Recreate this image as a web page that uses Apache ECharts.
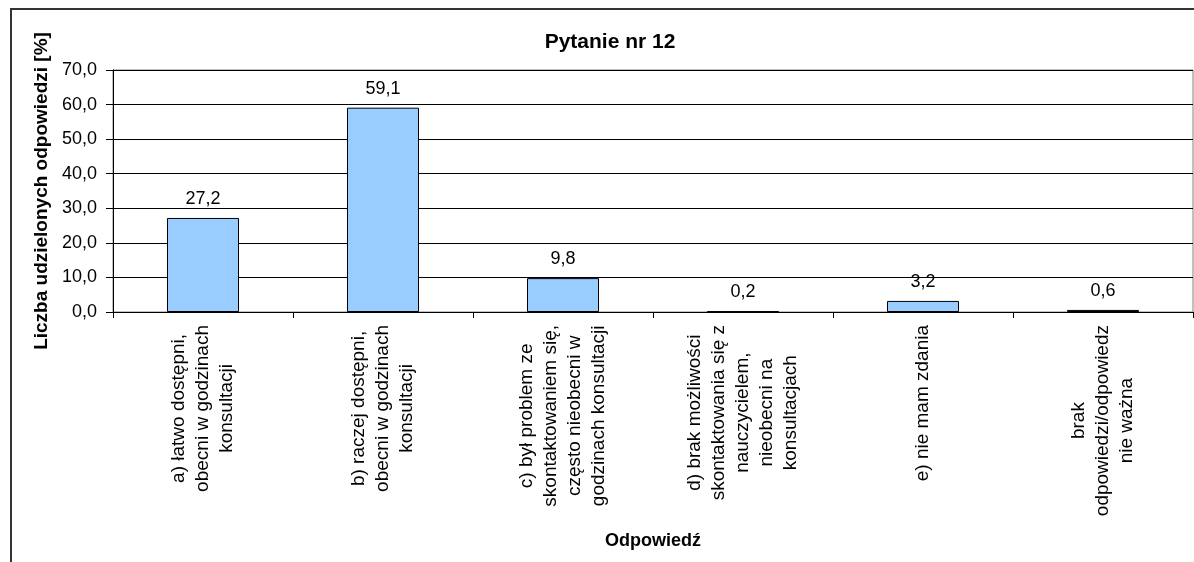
<!DOCTYPE html>
<html>
<head>
<meta charset="utf-8">
<title>Pytanie nr 12</title>
<script src="https://cdn.jsdelivr.net/npm/echarts@6/dist/echarts.min.js"></script>
<style>
  html, body { margin: 0; padding: 0; background: #fff; }
  #chart { width: 1194px; height: 562px; }
</style>
</head>
<body>
<div id="chart"></div>
<script>
// odpowiedzi (kategorie osi X)
var categories = [
  'a) łatwo dostępni,\nobecni w godzinach\nkonsultacji',
  'b) raczej dostępni,\nobecni w godzinach\nkonsultacji',
  'c) był problem ze\nskontaktowaniem się,\nczęsto nieobecni w\ngodzinach konsultacji',
  'd) brak możliwości\nskontaktowania się z\nnauczycielem,\nnieobecni na\nkonsultacjach',
  'e) nie mam zdania',
  'brak\nodpowiedzi/odpowiedz\nnie ważna'
];
// udział odpowiedzi [%]
var values = [27.2, 59.1, 9.8, 0.2, 3.2, 0.6];
// skala osi Y
var yTicks = [0, 10, 20, 30, 40, 50, 60, 70];

var FONT = '"Liberation Sans", Arial, sans-serif';

function fmt(v) {
  return Number(v).toFixed(1).replace('.', ',');
}

function initChart(dom) {
  var chart = echarts.init(dom, null, { width: 1194, height: 562 });

  var option = {
    backgroundColor: '#ffffff',
    animation: false,
    title: {
      text: 'Pytanie nr 12',
      left: 610,
      top: 32,
      padding: 0,
      textAlign: 'center',
      textStyle: { fontFamily: FONT, fontSize: 21, fontWeight: 'bold', color: '#000' }
    },
    graphic: [{
      // ramka wykresu
      type: 'rect',
      shape: { x: 11, y: 9, width: 1300, height: 700 },
      style: { fill: 'none', stroke: '#333', lineWidth: 2 },
      silent: true,
      z: -1
    }],
    grid: {
      left: 113,
      right: 1,
      top: 70,
      bottom: 250,
      show: true,
      borderColor: '#808080',
      borderWidth: 1,
      outerBoundsMode: 'none'
    },
    xAxis: {
      type: 'category',
      data: categories,
      name: 'Odpowiedź',
      nameLocation: 'middle',
      nameGap: 220,
      nameTextStyle: { fontFamily: FONT, fontSize: 18, fontWeight: 'bold', color: '#000' },
      axisLine: { lineStyle: { color: '#000', width: 1 } },
      axisTick: { show: true, length: 6, alignWithLabel: false, lineStyle: { color: '#000' } },
      axisLabel: {
        interval: 0,
        rotate: 90,
        margin: 13,
        formatter: function(v) {
          return v.split('\n').map(function(s) { return '{c|' + s + '}'; }).join('\n');
        },
        rich: {
          c: { align: 'center', fontFamily: FONT, fontSize: 19, lineHeight: 24, color: '#000' }
        }
      }
    },
    yAxis: {
      type: 'value',
      min: yTicks[0],
      max: yTicks[yTicks.length - 1],
      interval: yTicks[1] - yTicks[0],
      name: 'Liczba udzielonych odpowiedzi [%]',
      nameLocation: 'middle',
      nameGap: 60,
      nameTextStyle: { fontFamily: FONT, fontSize: 19, fontWeight: 'bold', color: '#000' },
      axisLine: { show: true, lineStyle: { color: '#000', width: 1 } },
      axisTick: { show: true, length: 7, lineStyle: { color: '#000' } },
      axisLabel: {
        margin: 16,
        fontFamily: FONT,
        fontSize: 18,
        color: '#000',
        formatter: function(v) { return fmt(v); }
      },
      splitLine: { show: true, lineStyle: { color: '#000', width: 1 } }
    },
    series: [{
      type: 'bar',
      data: values,
      barWidth: '40%',
      itemStyle: { color: '#99CCFF', borderColor: '#000', borderWidth: 1 },
      label: {
        show: true,
        position: 'top',
        distance: 10,
        fontFamily: FONT,
        fontSize: 18,
        color: '#000',
        formatter: function(p) { return fmt(p.value); }
      }
    }]
  };

  chart.setOption(option);
  return chart;
}

initChart(document.getElementById('chart'));
</script>
</body>
</html>
